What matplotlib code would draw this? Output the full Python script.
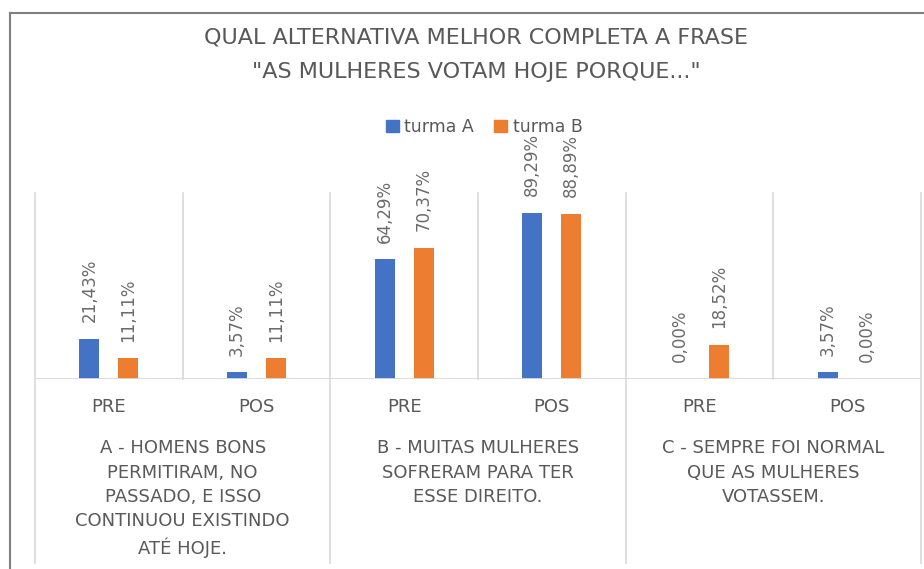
import matplotlib.pyplot as plt
from matplotlib.lines import Line2D
from matplotlib.patches import Patch
import numpy as np

# --- dados ---
momentos = ["PRE", "POS", "PRE", "POS", "PRE", "POS"]
grupos = [
    "A - HOMENS BONS\nPERMITIRAM, NO\nPASSADO, E ISSO\nCONTINUOU EXISTINDO\nATÉ HOJE.",
    "B - MUITAS MULHERES\nSOFRERAM PARA TER\nESSE DIREITO.",
    "C - SEMPRE FOI NORMAL\nQUE AS MULHERES\nVOTASSEM.",
]
turma_a = [21.43, 3.57, 64.29, 89.29, 0.00, 3.57]
turma_b = [11.11, 11.11, 70.37, 88.89, 18.52, 0.00]
series = ["turma A", "turma B"]
titulo = 'QUAL ALTERNATIVA MELHOR COMPLETA A FRASE\n"AS MULHERES VOTAM HOJE PORQUE..."'

AZUL = "#4472C4"
LARANJA = "#ED7D31"
CINZA_TXT = "#595959"
CINZA_LINHA = "#d9d9d9"

W, H = 924, 569
fig = plt.figure(figsize=(W / 100, H / 100), dpi=100, facecolor="white")
ax = fig.add_axes([35 / W, (H - 379) / H, 886 / W, 186 / H])

x = np.arange(len(momentos))
larg = 0.135
desl = 0.132
barras_a = ax.bar(x - desl, turma_a, width=larg, color=AZUL, zorder=3)
barras_b = ax.bar(x + desl, turma_b, width=larg, color=LARANJA, zorder=3)

for barras, vals in [(barras_a, turma_a), (barras_b, turma_b)]:
    for b, v in zip(barras, vals):
        ax.annotate(f"{v:.2f}%".replace(".", ","),
                    (b.get_x() + b.get_width() / 2, v),
                    xytext=(0, 12), textcoords="offset points",
                    rotation=90, ha="center", va="bottom",
                    fontsize=12, color="#6b6b6b", annotation_clip=False)

ax.set_xlim(-0.5, len(momentos) - 0.5)
ax.set_ylim(0, 100)
ax.set_xticks([])
ax.set_yticks([])
for s in ax.spines.values():
    s.set_visible(False)
ax.axhline(0, color=CINZA_LINHA, lw=1.3, zorder=4)

# linhas separadoras das categorias (as de grupo descem até o fim)
trans = ax.get_xaxis_transform()
for i in range(len(momentos) + 1):
    xb = i - 0.5
    y0 = -0.99 if i % 2 == 0 else 0
    ax.plot([xb, xb], [y0, 1], color=CINZA_LINHA, lw=1.2,
            transform=trans, clip_on=False, zorder=2)

for xi, m in zip(x, momentos):
    ax.text(xi, -0.15, m, transform=trans, ha="center", va="center",
            fontsize=13, color=CINZA_TXT)

for gi, g in enumerate(grupos):
    ax.text(2 * gi + 0.5, -0.325, g, transform=trans, ha="center", va="top",
            fontsize=13, color=CINZA_TXT, linespacing=1.44)

fig.text(476 / W, 1 - 55 / H, titulo, ha="center", va="center",
         fontsize=16, color=CINZA_TXT, linespacing=1.88)

handles = [Patch(color=AZUL), Patch(color=LARANJA)]
fig.legend(handles, series, loc="center", bbox_to_anchor=(484 / W, 1 - 127 / H),
           ncol=2, frameon=False, fontsize=12.5, labelcolor=CINZA_TXT,
           handlelength=0.75, handleheight=0.75, handletextpad=0.3,
           columnspacing=1.2)

# moldura do gráfico
cor_borda = "#808080"
fig.add_artist(Line2D([10 / W, 10 / W], [0, 1 - 13 / H], color=cor_borda,
                      lw=1.5, transform=fig.transFigure))
fig.add_artist(Line2D([10 / W, 1], [1 - 13 / H, 1 - 13 / H], color=cor_borda,
                      lw=1.5, transform=fig.transFigure))

fig.savefig("out.png", dpi=100)
